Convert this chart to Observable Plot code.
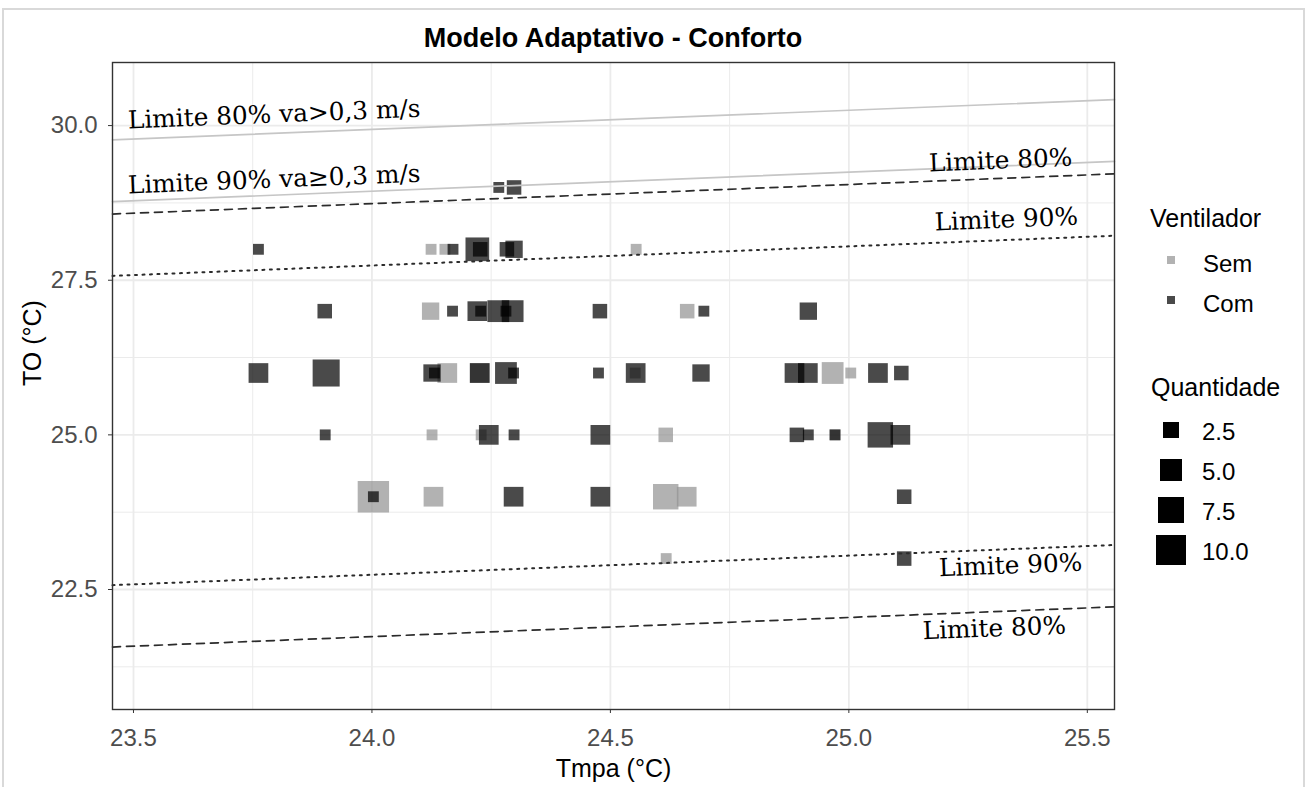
<!DOCTYPE html>
<html>
<head>
<meta charset="utf-8">
<script src="https://cdn.jsdelivr.net/npm/d3@7"></script>
<script src="https://cdn.jsdelivr.net/npm/@observablehq/plot@0.6"></script>
<style>
  html, body { margin: 0; padding: 0; background: #fff; }
  body { width: 1309px; height: 787px; overflow: hidden; position: relative;
         font-family: "Liberation Sans", Arial, sans-serif; color: #000; }
  #frame { position: absolute; left: 2px; top: 8px; width: 1303px; height: 820px;
           border: 2px solid #d9d9d9; box-sizing: border-box; }
  #title { position: absolute; left: 112px; width: 1002px; top: 22px; text-align: center;
           font-weight: bold; font-size: 27px; line-height: 32px; }
  #chart { position: absolute; left: 0; top: 56px; }
  .lg { position: absolute; white-space: nowrap; }
  .lg-title { font-size: 25px; line-height: 25px; }
  .lg-text { font-size: 24px; line-height: 24px; }
  .lg-key { position: absolute; }
</style>
</head>
<body>
<div id="frame"></div>
<div id="title">Modelo Adaptativo - Conforto</div>
<div id="chart"></div>
<div id="legend"></div>
<script>
// Axis ticks and grid
const xTicks = [23.5, 24.0, 24.5, 25.0, 25.5];
const xMinor = [23.75, 24.25, 24.75, 25.25];
const yTicks = [22.5, 25.0, 27.5, 30.0];
const yMinor = [21.25, 23.75, 26.25, 28.75];

// Observations without fan ("Sem")
const semTmpa = [24.124, 24.153, 24.554,
                 24.123, 24.661,
                 24.158, 24.226, 24.552, 24.966, 25.004,
                 24.126, 24.229, 24.616, 24.971,
                 24.003, 24.129, 24.616, 24.660,
                 24.617];
const semTO   = [28, 28, 28,
                 27, 27,
                 26, 26, 26, 26, 26,
                 25, 25, 25, 25,
                 24, 24, 24, 24,
                 23];
const semQtd  = [1, 1, 1,
                 3, 2,
                 4, 4, 1, 5, 1,
                 1, 1, 2, 1,
                 11, 4, 7, 4,
                 1];

// Observations with fan ("Com")
const comTmpa = [24.266, 24.298,
                 23.762, 24.170, 24.221, 24.227, 24.283, 24.298,
                 23.901, 24.169, 24.221, 24.228, 24.265, 24.281, 24.295, 24.478, 24.696, 24.915,
                 23.762, 23.904, 24.126, 24.131, 24.226, 24.281, 24.297, 24.475, 24.553, 24.690, 24.886, 24.914, 25.061, 25.110,
                 23.902, 24.245, 24.298, 24.479, 24.891, 24.915, 24.971, 25.066, 25.108,
                 24.003, 24.297, 24.479, 25.116,
                 25.116];
const comTO   = [29, 29,
                 28, 28, 28, 28, 28, 28,
                 27, 27, 27, 27, 27, 27, 27, 27, 27, 27,
                 26, 26, 26, 26, 26, 26, 26, 26, 26, 26, 26, 26, 26, 26,
                 25, 25, 25, 25, 25, 25, 25, 25, 25,
                 24, 24, 24, 24,
                 23];
const comQtd  = [1, 2,
                 1, 1, 6, 2, 2, 3,
                 2, 1, 4, 1, 5, 1, 5, 2, 1, 3,
                 4, 8, 3, 1, 4, 5, 1, 1, 4, 3, 4, 4, 4, 2,
                 1, 4, 1, 4, 2, 1, 1, 7, 4,
                 1, 4, 4, 2,
                 2];

// Comfort limits (operative temperature at both ends of the Tmpa range)
const limitTmpa = [23.456, 25.557];
const lim80VaUp = [29.77, 30.42];
const lim90VaUp = [28.77, 29.42];
const lim80Up   = [28.57, 29.22];
const lim90Up   = [27.57, 28.22];
const lim90Low  = [22.57, 23.22];
const lim80Low  = [21.57, 22.22];

// Limit annotations
const labelText = ["Limite 80% va>0,3 m/s", "Limite 90% va\u22650,3 m/s", "Limite 80%", "Limite 90%", "Limite 90%", "Limite 80%"];
const labelTmpa = [23.795, 23.795, 25.318, 25.330, 25.339, 25.305];
const labelTO   = [30.178, 29.127, 29.434, 28.480, 22.888, 21.870];

// Legend entries
const ventLevels = ["Sem", "Com"];
const sizeBreaks = [2.5, 5.0, 7.5, 10.0];

const points = [
  ...semTmpa.map((x, i) => ({tmpa: x, to: semTO[i], qtd: semQtd[i], vent: "Sem"})),
  ...comTmpa.map((x, i) => ({tmpa: x, to: comTO[i], qtd: comQtd[i], vent: "Com"}))
];
const lineRows = (values, id) => limitTmpa.map((x, i) => ({tmpa: x, to: values[i], id}));
const vaLines = [...lineRows(lim80VaUp, "80va"), ...lineRows(lim90VaUp, "90va")];
const lines80 = [...lineRows(lim80Up, "80u"), ...lineRows(lim80Low, "80l")];
const lines90 = [...lineRows(lim90Up, "90u"), ...lineRows(lim90Low, "90l")];
const labels = labelText.map((t, i) => ({text: t, tmpa: labelTmpa[i], to: labelTO[i]}));

const fmt = d3.format(".1f");
const chart = Plot.plot({
  width: 1130,
  height: 731,
  marginTop: 6,
  marginRight: 16,
  marginBottom: 78,
  marginLeft: 112,
  style: {fontFamily: '"Liberation Sans", Arial, sans-serif', background: "transparent", color: "#000"},
  x: {domain: [23.456, 25.557]},
  y: {domain: [20.56, 31.02]},
  r: {type: "sqrt", domain: [0, 10], range: [1.13, 16.93]},
  color: {domain: ventLevels, range: ["#929292", "#000000"]},
  marks: [
    Plot.ruleX(xMinor, {stroke: "#ebebeb", strokeWidth: 1}),
    Plot.ruleY(yMinor, {stroke: "#ebebeb", strokeWidth: 1}),
    Plot.ruleX(xTicks, {stroke: "#ebebeb", strokeWidth: 1.8}),
    Plot.ruleY(yTicks, {stroke: "#ebebeb", strokeWidth: 1.8}),
    Plot.dot(points, {x: "tmpa", y: "to", r: "qtd", fill: "vent", fillOpacity: 0.71, symbol: "square", sort: null}),
    Plot.line(vaLines, {x: "tmpa", y: "to", z: "id", stroke: "#c6c6c6", strokeWidth: 1.7}),
    Plot.line(lines80, {x: "tmpa", y: "to", z: "id", stroke: "#2b2b2b", strokeWidth: 1.7, strokeDasharray: "8,6"}),
    Plot.line(lines90, {x: "tmpa", y: "to", z: "id", stroke: "#2b2b2b", strokeWidth: 2, strokeDasharray: "2,5.5"}),
    Plot.text(labels, {x: "tmpa", y: "to", text: "text", rotate: -2.3, fontSize: 24.8,
                       fontFamily: '"DejaVu Serif", serif', fill: "#000"}),
    Plot.frame({stroke: "#333", strokeWidth: 1.4}),
    Plot.axisX({ticks: xTicks, tickFormat: fmt, tickSize: 4, tickPadding: 15, fontSize: 24,
                color: "#4d4d4d", stroke: "#333", label: null}),
    Plot.axisY({ticks: yTicks, tickFormat: fmt, tickSize: 4, tickPadding: 11, fontSize: 24,
                color: "#4d4d4d", stroke: "#333", label: null}),
    Plot.text(["Tmpa (°C)"], {text: d => d, frameAnchor: "bottom", dy: 67, fontSize: 25, fill: "#000"}),
    Plot.text(["TO (°C)"], {text: d => d, frameAnchor: "left", dx: -80, rotate: -90, fontSize: 25, fill: "#000"})
  ]
});
document.getElementById("chart").append(chart);

// Legends built from the chart's own colour and size scales
const rScale = chart.scale("r");
const cScale = chart.scale("color");
const legend = document.getElementById("legend");
const add = (cls, text, left, top) => {
  const el = document.createElement("div");
  el.className = "lg " + cls;
  el.textContent = text;
  el.style.left = left + "px";
  el.style.top = top + "px";
  legend.append(el);
};
const addKey = (cx, cy, side, color, opacity) => {
  const el = document.createElement("div");
  el.className = "lg-key";
  el.style.left = (cx - side / 2) + "px";
  el.style.top = (cy - side / 2) + "px";
  el.style.width = side + "px";
  el.style.height = side + "px";
  el.style.background = color;
  el.style.opacity = opacity;
  legend.append(el);
};
add("lg-title", "Ventilador", 1150, 206);
ventLevels.forEach((v, i) => {
  addKey(1171, 260 + i * 40, 8, cScale.apply(v), 0.71);
  add("lg-text", v, 1203, 252 + i * 40);
});
add("lg-title", "Quantidade", 1151, 375);
sizeBreaks.forEach((q, i) => {
  const side = Math.sqrt(Math.PI) * rScale.apply(q);
  addKey(1171, 430 + i * 40, side, "#000", 1);
  add("lg-text", fmt(q), 1202, 420 + i * 40);
});
</script>
</body>
</html>
